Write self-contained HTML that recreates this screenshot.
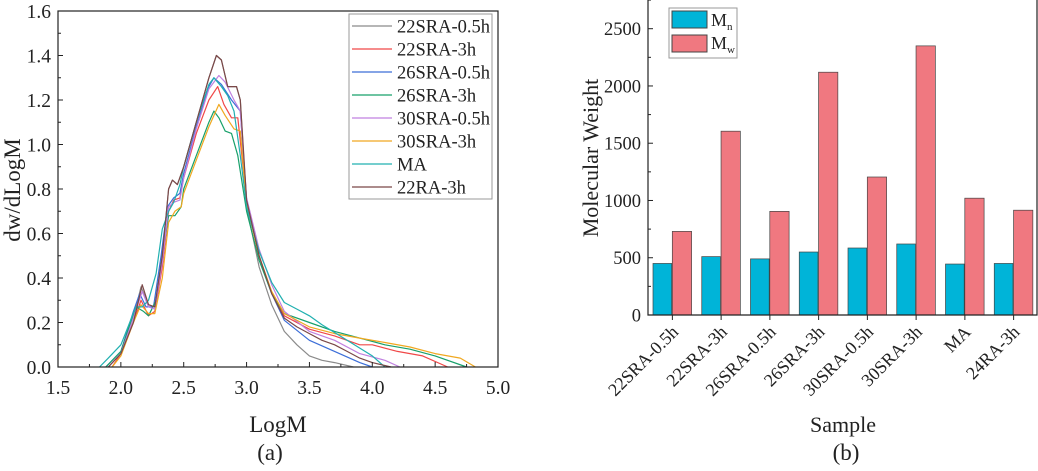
<!DOCTYPE html>
<html><head><meta charset="utf-8"><style>
body{margin:0;background:#fff}
svg, svg text, svg tspan{font-family:"Liberation Serif","Times New Roman",serif !important}
svg text{fill:#222}
</style></head><body>
<svg id="svg" width="1038" height="466" viewBox="0 0 1038 466" font-family="Liberation Serif, serif">
<g id="left"></g>
<g id="right"></g>
</svg>
<script>
// ---- Chart (a) data ----
const seriesNames=["22SRA-0.5h","22SRA-3h","26SRA-0.5h","26SRA-3h","30SRA-0.5h","30SRA-3h","MA","22RA-3h"];
const seriesColors=["#8a8a8a","#f04848","#3c6ed8","#17a06a","#c080e0","#f0a820","#20b0b0","#7a4848"];
const s0x=[1.9,2.0,2.1,2.16,2.22,2.27,2.33,2.38,2.41,2.45,2.5,2.6,2.7,2.76,2.8,2.85,2.92,2.95,3.0,3.1,3.2,3.3,3.4,3.5,3.6,3.7,3.85];
const s0y=[0,0.06,0.22,0.36,0.28,0.27,0.5,0.8,0.84,0.82,0.9,1.1,1.3,1.40,1.38,1.26,1.26,1.2,0.72,0.45,0.28,0.16,0.1,0.05,0.03,0.02,0];
const s1x=[1.93,2.0,2.1,2.16,2.22,2.27,2.33,2.38,2.42,2.47,2.5,2.6,2.7,2.77,2.82,2.88,2.93,3.0,3.1,3.2,3.3,3.5,3.7,3.9,4.0,4.2,4.4,4.6];
const s1y=[0,0.06,0.2,0.3,0.23,0.25,0.45,0.7,0.75,0.76,0.85,1.05,1.2,1.26,1.18,1.12,1.12,0.75,0.5,0.33,0.23,0.17,0.14,0.1,0.1,0.07,0.05,0];
const s2x=[1.88,2.0,2.1,2.15,2.2,2.26,2.32,2.37,2.42,2.47,2.5,2.6,2.7,2.74,2.8,2.88,2.95,3.0,3.1,3.2,3.3,3.5,3.7,3.9,4.0];
const s2y=[0,0.07,0.25,0.33,0.27,0.27,0.5,0.72,0.76,0.78,0.87,1.08,1.26,1.30,1.27,1.2,1.15,0.75,0.5,0.33,0.21,0.12,0.07,0.02,0];
const s3x=[1.88,2.0,2.12,2.18,2.22,2.28,2.33,2.38,2.43,2.48,2.5,2.6,2.7,2.74,2.78,2.83,2.88,2.93,3.0,3.1,3.2,3.3,3.5,3.7,3.9,4.1,4.3,4.5,4.75];
const s3y=[0,0.07,0.27,0.25,0.23,0.3,0.5,0.68,0.68,0.72,0.8,0.95,1.1,1.15,1.12,1.06,1.05,0.95,0.7,0.48,0.33,0.24,0.2,0.16,0.13,0.1,0.08,0.05,0];
const s4x=[1.9,2.0,2.1,2.17,2.22,2.27,2.33,2.38,2.42,2.47,2.5,2.6,2.7,2.78,2.83,2.9,2.95,3.0,3.1,3.2,3.3,3.5,3.7,3.9,4.1,4.22];
const s4y=[0,0.06,0.22,0.34,0.27,0.26,0.47,0.72,0.74,0.75,0.85,1.07,1.25,1.31,1.28,1.2,1.15,0.76,0.53,0.37,0.25,0.16,0.12,0.06,0.03,0];
const s5x=[1.93,2.0,2.1,2.16,2.22,2.27,2.33,2.38,2.43,2.48,2.5,2.6,2.7,2.78,2.83,2.9,2.95,3.0,3.1,3.2,3.3,3.5,3.7,3.9,4.1,4.3,4.5,4.7,4.82];
const s5y=[0,0.05,0.2,0.28,0.24,0.24,0.4,0.65,0.7,0.72,0.78,0.93,1.08,1.18,1.13,1.07,1.06,0.73,0.5,0.34,0.24,0.18,0.15,0.13,0.11,0.09,0.06,0.04,0];
const s6x=[1.83,1.9,2.0,2.12,2.17,2.22,2.28,2.33,2.38,2.42,2.47,2.5,2.6,2.7,2.74,2.8,2.85,2.9,2.95,3.0,3.1,3.2,3.3,3.4,3.5,3.6,3.8,4.0,4.1];
const s6y=[0,0.04,0.1,0.27,0.27,0.3,0.42,0.62,0.7,0.74,0.82,0.9,1.1,1.27,1.30,1.26,1.22,1.15,0.95,0.72,0.52,0.38,0.29,0.26,0.23,0.19,0.12,0.05,0];
const s7x=[1.9,2.0,2.1,2.17,2.22,2.27,2.33,2.38,2.41,2.45,2.5,2.6,2.7,2.76,2.8,2.85,2.92,2.95,3.0,3.1,3.2,3.3,3.4,3.5,3.6,3.7,3.8,3.9,4.0,4.15];
const s7y=[0,0.06,0.2,0.37,0.28,0.27,0.5,0.8,0.84,0.82,0.9,1.1,1.3,1.40,1.38,1.26,1.26,1.2,0.75,0.5,0.33,0.22,0.18,0.15,0.12,0.1,0.07,0.04,0.02,0];
const seriesX=[s0x,s1x,s2x,s3x,s4x,s5x,s6x,s7x];
const seriesY=[s0y,s1y,s2y,s3y,s4y,s5y,s6y,s7y];
const xTicksA=["1.5","2.0","2.5","3.0","3.5","4.0","4.5","5.0"];
const yTicksA=["0.0","0.2","0.4","0.6","0.8","1.0","1.2","1.4","1.6"];
// ---- Chart (b) data ----
const samples=["22SRA-0.5h","22SRA-3h","26SRA-0.5h","26SRA-3h","30SRA-0.5h","30SRA-3h","MA","24RA-3h"];
const mnValues=[450,510,490,550,585,620,445,450];
const mwValues=[730,1605,905,2120,1205,2350,1020,915];
const yTicksB=["0","500","1000","1500","2000","2500"];

const NS="http://www.w3.org/2000/svg";
const FF="Liberation Serif, serif";
function mk(parent,tag,attrs,text){const e=document.createElementNS(NS,tag);for(const k in attrs)e.setAttribute(k,attrs[k]);if(tag==='text')e.setAttribute('font-family',FF);if(text!==undefined)e.textContent=text;parent.appendChild(e);return e;}

// Chart A
const L=document.getElementById('left');
const ax=v=>58+(v-1.5)*(440/3.5);
const ay=v=>367-v*(356/1.6);
for(let i=0;i<seriesNames.length;i++){
  const pts=seriesX[i].map((x,j)=>ax(x).toFixed(1)+","+ay(seriesY[i][j]).toFixed(1)).join(" ");
  const p=mk(L,'polyline',{points:pts,fill:'none',stroke:seriesColors[i],'stroke-width':1.2,'stroke-linejoin':'round'});
  
  
}
mk(L,'rect',{x:58,y:11,width:440,height:356,fill:'none',stroke:'#222','stroke-width':1.2});
xTicksA.forEach((t,i)=>{const v=parseFloat(t);const x=ax(v);
  mk(L,'line',{x1:x,x2:x,y1:367,y2:362,stroke:'#222'});
  if(i<xTicksA.length-1)mk(L,'line',{x1:ax(v+0.25),x2:ax(v+0.25),y1:367,y2:364,stroke:'#222'});
  const tx=mk(L,'text',{x:x,y:394,'text-anchor':'middle','font-size':19.5},t);
  });
yTicksA.forEach((t,i)=>{const v=parseFloat(t);const y=ay(v);
  mk(L,'line',{x1:58,x2:63,y1:y,y2:y,stroke:'#222'});
  if(i<yTicksA.length-1)mk(L,'line',{x1:58,x2:61,y1:ay(v+0.1),y2:ay(v+0.1),stroke:'#222'});
  const tx=mk(L,'text',{x:51,y:y+7,'text-anchor':'end','font-size':19.5},t);
  });
let t=mk(L,'text',{x:278,y:432,'text-anchor':'middle','font-size':23},'LogM');

t=mk(L,'text',{x:0,y:0,'text-anchor':'middle','font-size':23,transform:'translate(20,190) rotate(-90)'},'dw/dLogM');

t=mk(L,'text',{x:270,y:460,'text-anchor':'middle','font-size':23},'(a)');

const lg=mk(L,'g',{});

mk(lg,'rect',{x:349,y:14,width:143,height:185,fill:'#fff',stroke:'#999'});
seriesNames.forEach((n,i)=>{const y=26+i*23;
  const g=mk(lg,'g',{});
  
  mk(g,'line',{x1:352,x2:392,y1:y,y2:y,stroke:seriesColors[i],'stroke-width':1.3});
  mk(g,'text',{x:397,y:y+6.5,'font-size':18.5},n);});

// Chart B
const R=document.getElementById('right');
const x0=648,gw=48.75;
const by=v=>315-v*(286.3/2500);
samples.forEach((s,i)=>{const gx=x0+i*gw;
  let r=mk(R,'rect',{x:gx+5,y:by(mnValues[i]),width:18.7,height:315-by(mnValues[i]),fill:'#00b4d8',stroke:'#444','stroke-width':0.7});
  
  r=mk(R,'rect',{x:gx+24.3,y:by(mwValues[i]),width:19.3,height:315-by(mwValues[i]),fill:'#f07880',stroke:'#444','stroke-width':0.7});
  
  const cx=gx+gw/2;
  mk(R,'line',{x1:cx,x2:cx,y1:315,y2:320,stroke:'#222'});
  const tx=mk(R,'text',{x:0,y:0,'text-anchor':'end','font-size':18,transform:`translate(${cx+7},${333}) rotate(-45)`},s);
  
});
mk(R,'polyline',{points:'648,0 648,315 1037,315 1037,0',fill:'none',stroke:'#222','stroke-width':1.2});
yTicksB.forEach((tk,i)=>{const v=parseFloat(tk);const y=by(v);
  mk(R,'line',{x1:648,x2:653,y1:y,y2:y,stroke:'#222'});
  mk(R,'line',{x1:648,x2:651,y1:by(v+250),y2:by(v+250),stroke:'#222'});
  const tx=mk(R,'text',{x:641,y:y+6.5,'text-anchor':'end','font-size':18.5},tk);
  });
t=mk(R,'text',{x:843,y:432,'text-anchor':'middle','font-size':22},'Sample');

t=mk(R,'text',{x:0,y:0,'text-anchor':'middle','font-size':22,transform:'translate(598,158) rotate(-90)'},'Molecular Weight');

t=mk(R,'text',{x:846,y:460,'text-anchor':'middle','font-size':23},'(b)');

const lb=mk(R,'g',{});

mk(lb,'rect',{x:669,y:8,width:68,height:50,fill:'#fff',stroke:'#999'});
mk(lb,'rect',{x:672,y:11,width:35,height:17,fill:'#00b4d8',stroke:'#444'});
mk(lb,'rect',{x:672,y:35,width:35,height:17,fill:'#f07880',stroke:'#444'});
const e1=mk(lb,'text',{x:711,y:26,'font-size':18},'M');
mk(e1,'tspan',{'font-size':11,dy:4},'n');
const e2=mk(lb,'text',{x:711,y:49,'font-size':18},'M');
mk(e2,'tspan',{'font-size':11,dy:4},'w');
</script>
</body></html>
